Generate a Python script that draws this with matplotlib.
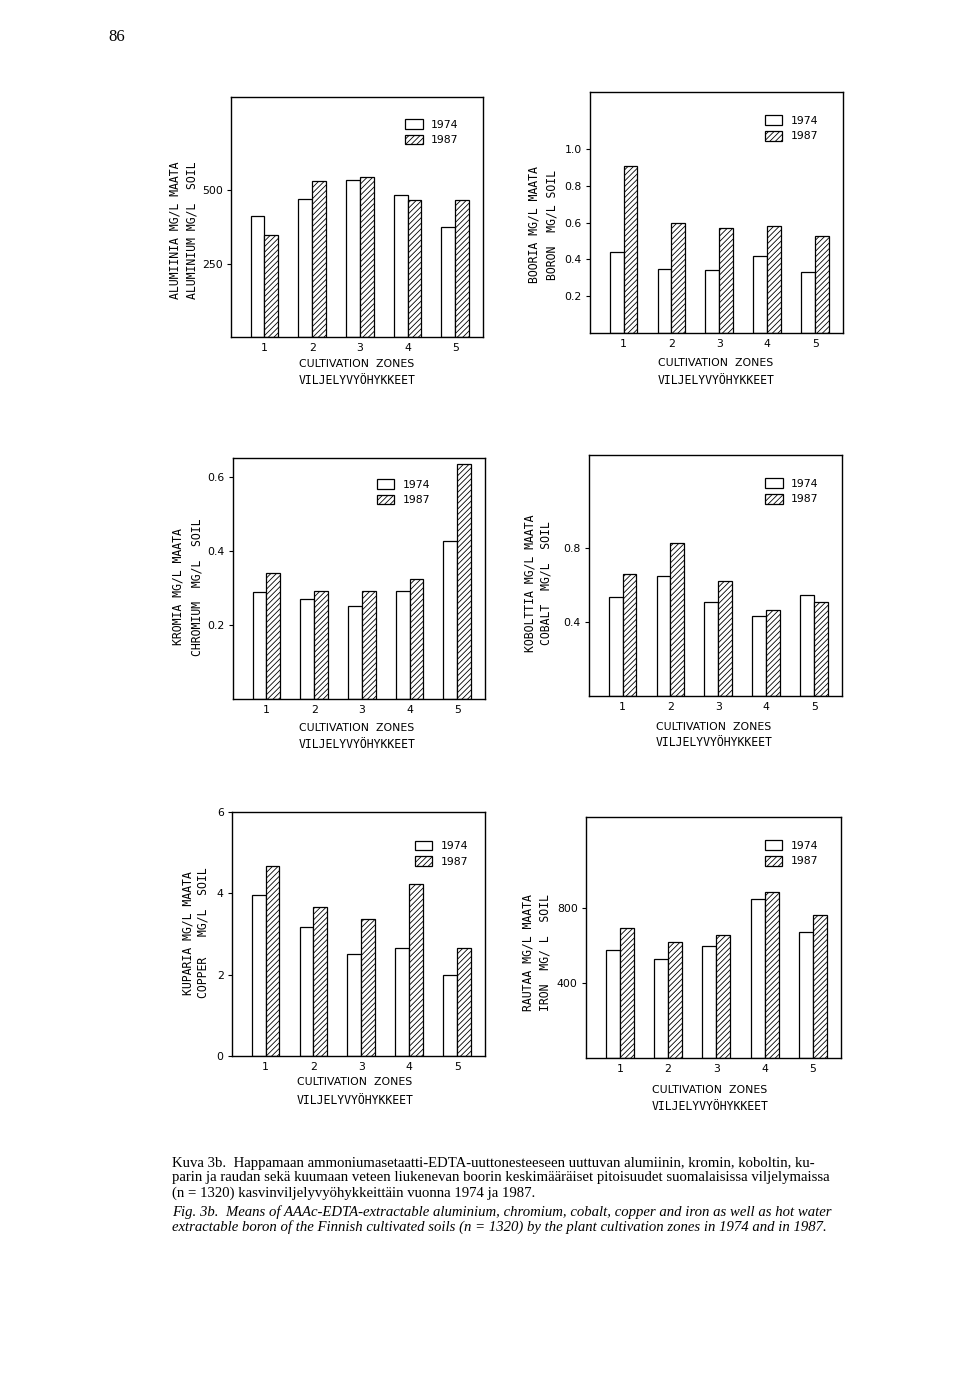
import numpy as np
import matplotlib
import matplotlib.pyplot as plt
from matplotlib.patches import Patch

matplotlib.use('Agg')
plt.rcParams['hatch.linewidth'] = 0.6

W, H = 960, 1389

zones = [1, 2, 3, 4, 5]

al_1974 = [411, 470, 535, 483, 375]
al_1987 = [346, 531, 546, 468, 468]
b_1974 = [0.44, 0.35, 0.34, 0.42, 0.33]
b_1987 = [0.91, 0.60, 0.57, 0.58, 0.525]
cr_1974 = [0.288, 0.270, 0.251, 0.293, 0.426]
cr_1987 = [0.340, 0.291, 0.291, 0.323, 0.635]
co_1974 = [0.537, 0.652, 0.508, 0.434, 0.546]
co_1987 = [0.661, 0.830, 0.623, 0.466, 0.511]
cu_1974 = [3.96, 3.17, 2.50, 2.66, 2.00]
cu_1987 = [4.68, 3.67, 3.38, 4.24, 2.65]
fe_1974 = [576, 531, 599, 850, 675]
fe_1987 = [697, 619, 658, 887, 766]


def fx(x):
    return x / W


def fy(y):
    return 1 - y / H


fig = plt.figure(figsize=(9.6, 13.89), dpi=100)

# (left, right, top, bottom) in pixels, ylim, ticks, tick format, legend anchor,
# ylabel lines and positions, xlabel positions
panels = [
    dict(box=(231, 483, 97, 337), v74=al_1974, v87=al_1987, ylim=818,
         ticks=[250, 500], fmt='{:g}', leg=(0.67, 0.93),
         yl=('ALUMIINIA MG/L MAATA', 'ALUMINIUM MG/L  SOIL'), ylx=(175, 192), yly=230,
         xly=(364, 380), xlx=357),
    dict(box=(590, 843, 92, 333), v74=b_1974, v87=b_1987, ylim=1.31,
         ticks=[0.2, 0.4, 0.6, 0.8, 1.0], fmt='{:.1f}', leg=(0.67, 0.925),
         yl=('BOORIA MG/L MAATA', 'BORON  MG/L SOIL'), ylx=(534, 552), yly=225,
         xly=(363, 380), xlx=716),
    dict(box=(233, 485, 458, 699), v74=cr_1974, v87=cr_1987, ylim=0.651,
         ticks=[0.2, 0.4, 0.6], fmt='{:.1f}', leg=(0.55, 0.935),
         yl=('KROMIA MG/L MAATA', 'CHROMIUM  MG/L  SOIL'), ylx=(178, 197), yly=587,
         xly=(728, 745), xlx=357),
    dict(box=(589, 842, 455, 696), v74=co_1974, v87=co_1987, ylim=1.304,
         ticks=[0.4, 0.8], fmt='{:.1f}', leg=(0.675, 0.925),
         yl=('KOBOLTTIA MG/L MAATA', 'COBALT  MG/L  SOIL'), ylx=(530, 546), yly=583,
         xly=(727, 743), xlx=714),
    dict(box=(232, 485, 812, 1056), v74=cu_1974, v87=cu_1987, ylim=6,
         ticks=[0, 2, 4, 6], fmt='{:g}', leg=(0.70, 0.905),
         yl=('KUPARIA MG/L MAATA', 'COPPER   MG/L  SOIL'), ylx=(188, 203), yly=933,
         xly=(1082, 1100), xlx=355),
    dict(box=(586, 841, 817, 1058), v74=fe_1974, v87=fe_1987, ylim=1289,
         ticks=[400, 800], fmt='{:g}', leg=(0.68, 0.925),
         yl=('RAUTAA MG/L MAATA', 'IRON  MG/ L  SOIL'), ylx=(528, 545), yly=953,
         xly=(1090, 1106), xlx=710),
]

x = np.array(zones)
w = 0.29

for p in panels:
    l, r, t, b = p['box']
    ax = fig.add_axes([fx(l), fy(b), (r - l) / W, (b - t) / H])
    ax.bar(x - w / 2, p['v74'], w, color='white', edgecolor='black', linewidth=0.9)
    ax.bar(x + w / 2, p['v87'], w, color='white', edgecolor='black', linewidth=0.9,
           hatch='//////')
    ax.set_xlim(0.3, 5.58)
    ax.set_ylim(0, p['ylim'])
    ax.set_xticks(zones)
    ax.set_xticklabels([str(z) for z in zones], fontsize=7.8)
    ax.tick_params(axis='x', length=0, pad=4)
    ax.set_yticks(p['ticks'])
    ax.set_yticklabels([p['fmt'].format(v) for v in p['ticks']], fontsize=7.8)
    ax.tick_params(axis='y', length=3, width=0.8, pad=3)
    for s in ax.spines.values():
        s.set_linewidth(1.0)

    handles = [Patch(facecolor='white', edgecolor='black', linewidth=0.9),
               Patch(facecolor='white', edgecolor='black', linewidth=0.9, hatch='//////')]
    ax.legend(handles, ['1974', '1987'], loc='upper left', bbox_to_anchor=p['leg'],
              frameon=False, fontsize=7.8, handlelength=1.6, handleheight=1.0,
              labelspacing=0.45, borderpad=0, handletextpad=0.8)

    for line, xx in zip(p['yl'], p['ylx']):
        fig.text(fx(xx), fy(p['yly']), line, rotation=90, ha='center', va='center',
                 family='DejaVu Sans Mono', fontsize=8.3)

    fig.text(fx(p['xlx']), fy(p['xly'][0]), 'CULTIVATION  ZONES', ha='center',
             va='center', fontsize=7.8)
    fig.text(fx(p['xlx']), fy(p['xly'][1]), 'VILJELYVYÖHYKKEET', ha='center',
             va='center', family='DejaVu Sans Mono', fontsize=8.3)

fig.text(fx(108), fy(37), '86', ha='left', va='center', family='Liberation Serif',
         fontsize=12)

cap_fi = ['Kuva 3b.  Happamaan ammoniumasetaatti-EDTA-uuttonesteeseen uuttuvan alumiinin, kromin, koboltin, ku-',
          'parin ja raudan sekä kuumaan veteen liukenevan boorin keskimääräiset pitoisuudet suomalaisissa viljelymaissa',
          '(n = 1320) kasvinviljelyvyöhykkeittäin vuonna 1974 ja 1987.']
cap_en = ['Fig. 3b.  Means of AAAc-EDTA-extractable aluminium, chromium, cobalt, copper and iron as well as hot water',
          'extractable boron of the Finnish cultivated soils (n = 1320) by the plant cultivation zones in 1974 and in 1987.']

for i, line in enumerate(cap_fi):
    fig.text(fx(172), fy(1163 + 15 * i), line, ha='left', va='center',
             family='Liberation Serif', fontsize=10.6)
for i, line in enumerate(cap_en):
    fig.text(fx(172), fy(1212 + 15 * i), line, ha='left', va='center',
             family='Liberation Serif', fontsize=10.6, style='italic')

fig.savefig('out.png', dpi=100)
